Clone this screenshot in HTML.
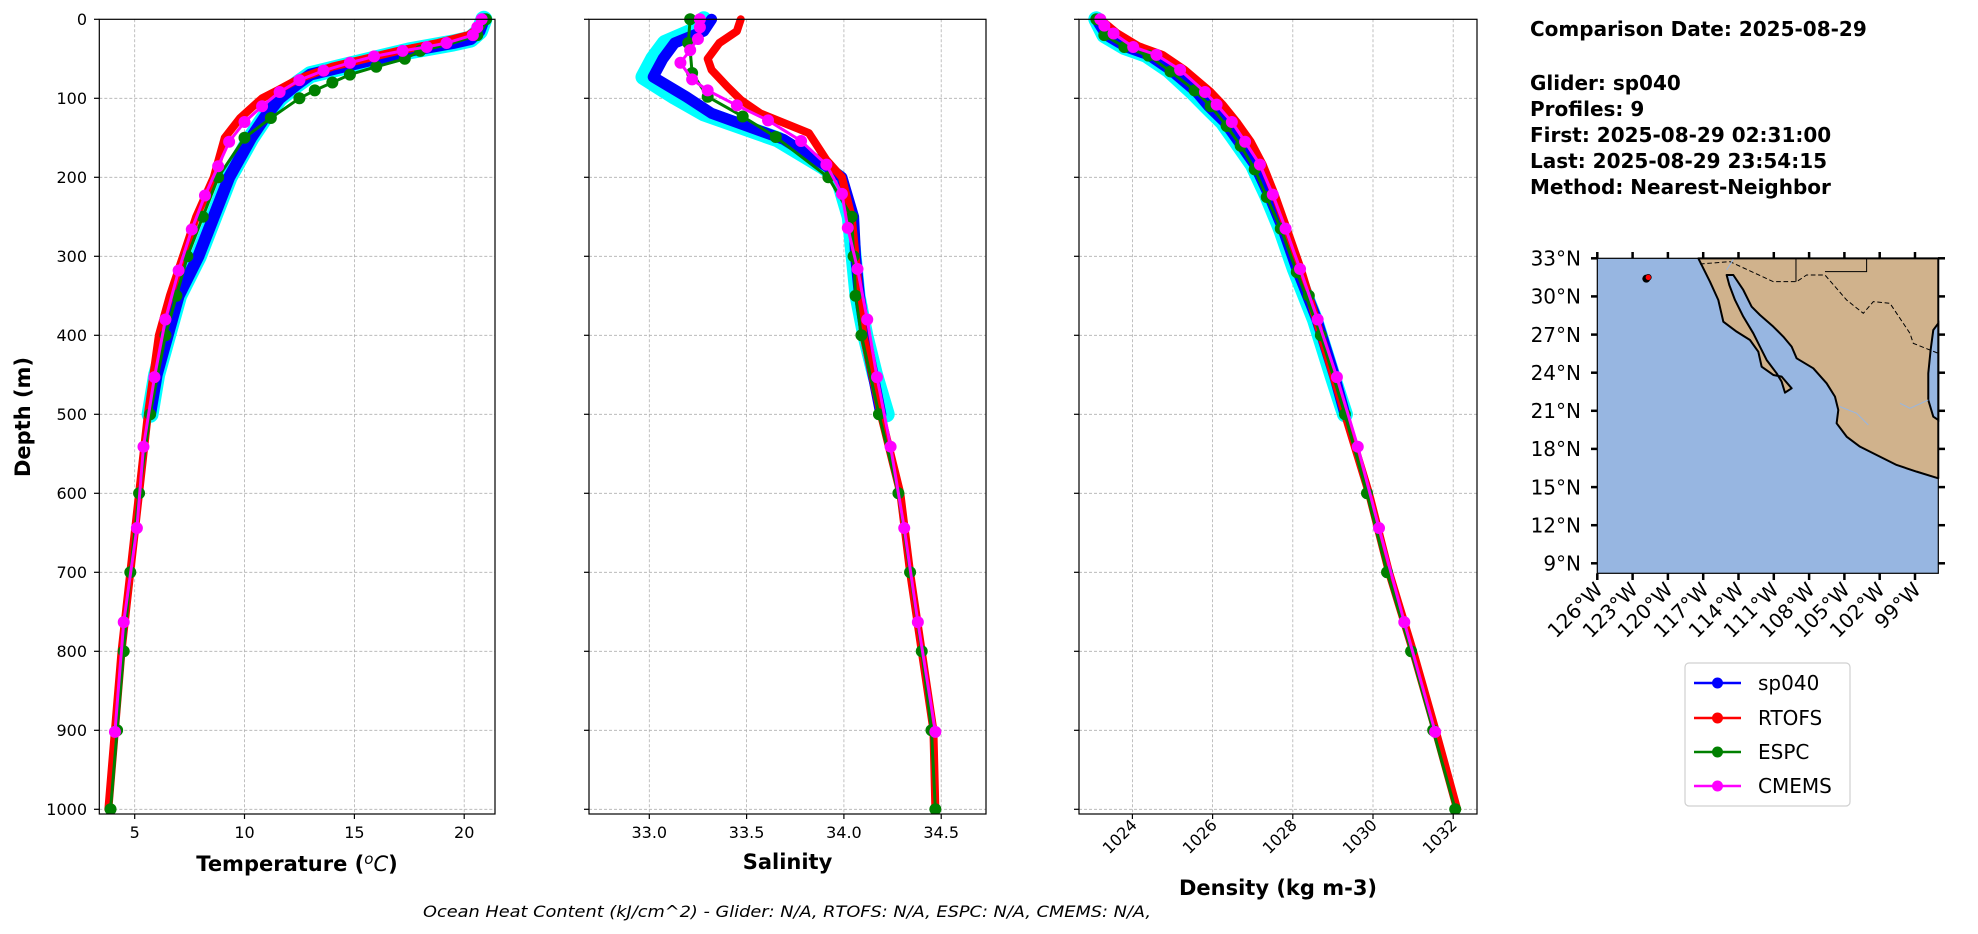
<!DOCTYPE html>
<html><head><meta charset="utf-8"><style>
html,body{margin:0;padding:0;background:#fff;}
svg{display:block;font-family:"DejaVu Sans","Liberation Sans",sans-serif;}
.g{stroke:#b0b0b0;stroke-width:0.8;stroke-dasharray:3,2;fill:none}
.ns{vector-effect:non-scaling-stroke;fill:none;stroke-linejoin:round;stroke-linecap:round}
.tk{font-size:16px;fill:#000}
.ax{fill:none;stroke:#000;stroke-width:1.2}
</style></head><body>
<svg width="1978" height="934" viewBox="0 0 1978 934" xmlns="http://www.w3.org/2000/svg">
<rect width="1978" height="934" fill="#fff"/>

<!-- ===== Temperature axes ===== -->
<g>
<g class="g">
<line x1="134.7" y1="19.3" x2="134.7" y2="814"/><line x1="244.5" y1="19.3" x2="244.5" y2="814"/>
<line x1="354.4" y1="19.3" x2="354.4" y2="814"/><line x1="464.2" y1="19.3" x2="464.2" y2="814"/>
<line x1="99.3" y1="98.3" x2="495" y2="98.3"/><line x1="99.3" y1="177.3" x2="495" y2="177.3"/><line x1="99.3" y1="256.3" x2="495" y2="256.3"/><line x1="99.3" y1="335.3" x2="495" y2="335.3"/><line x1="99.3" y1="414.3" x2="495" y2="414.3"/><line x1="99.3" y1="493.3" x2="495" y2="493.3"/><line x1="99.3" y1="572.3" x2="495" y2="572.3"/><line x1="99.3" y1="651.3" x2="495" y2="651.3"/><line x1="99.3" y1="730.3" x2="495" y2="730.3"/><line x1="99.3" y1="809.3" x2="495" y2="809.3"/>
</g>
<svg x="99.3" y="0" width="395.7" height="814" overflow="hidden">
<g transform="translate(-74.4,19.3) scale(21.96,0.79)">
<path class="ns" stroke="#00ffff" stroke-width="17" d="M20.9 0 L20.7 15 L20.3 25 L19.5 30 L17.5 40 L16 50 L14.5 60 L13 70 L12.4 82 L11.6 100 L10.9 125 L10.3 150 L9.8 175 L9.3 200 L8.6 250 L7.9 300 L7.0 350 L6.5 400 L6.0 450 L5.7 500"/>
<path class="ns" stroke="#0000ff" stroke-width="12" d="M20.9 0 L20.7 15 L20.3 25 L19.5 30 L17.5 40 L16 50 L14.5 60 L13 70 L12.4 82 L11.6 100 L10.9 125 L10.3 150 L9.8 175 L9.3 200 L8.6 250 L7.9 300 L7.0 350 L6.5 400 L6.0 450 L5.7 500"/>
<path class="ns" stroke="#ff0000" stroke-width="8" d="M20.9 0 L20.7 10 L20.2 20 L18.8 30 L17 40 L15.5 50 L14 60 L12.5 75 L11.5 90 L10.8 100 L9.8 125 L9.1 150 L8.6 200 L7.8 250 L7.2 300 L6.6 350 L6.1 400 L5.6 500 L5.2 600 L4.8 700 L4.4 800 L4.1 900 L3.8 1000"/>
<path class="ns" stroke="#008000" stroke-width="3" d="M21 0 L20.9 10 L20.6 20 L19.5 30 L18 40 L17.3 50 L16 60 L14.8 70 L14 80 L13.2 90 L12.5 100 L11.2 125 L10 150 L8.8 200 L8.1 250 L7.4 300 L6.9 350 L6.4 400 L5.7 500 L5.2 600 L4.8 700 L4.5 800 L4.2 900 L3.9 1000"/>
<path class="ns" stroke="#008000" stroke-width="12" d="M21 0h0M20.6 20h0M18 40h0M17.3 50h0M16 60h0M14.8 70h0M14 80h0M13.2 90h0M12.5 100h0M11.2 125h0M10 150h0M8.8 200h0M8.1 250h0M7.4 300h0M6.9 350h0M6.4 400h0M5.7 500h0M5.2 600h0M4.8 700h0M4.5 800h0M4.2 900h0M3.9 1000h0"/>
<path class="ns" stroke="#ff00ff" stroke-width="3" d="M20.8 0 L20.6 10 L20.4 20 L19.2 30 L18.3 35 L17.2 40 L15.9 47 L14.8 55 L13.6 65 L12.5 77 L11.6 92 L10.8 110 L10 130 L9.3 155 L8.8 186 L8.2 223 L7.6 266 L7 318 L6.4 380 L5.9 453 L5.4 541 L5.1 644 L4.5 763 L4.1 902"/>
<path class="ns" stroke="#ff00ff" stroke-width="12" d="M20.8 0h0M20.6 10h0M20.4 20h0M19.2 30h0M18.3 35h0M17.2 40h0M15.9 47h0M14.8 55h0M13.6 65h0M12.5 77h0M11.6 92h0M10.8 110h0M10 130h0M9.3 155h0M8.8 186h0M8.2 223h0M7.6 266h0M7 318h0M6.4 380h0M5.9 453h0M5.4 541h0M5.1 644h0M4.5 763h0M4.1 902h0"/>
</g></svg>
<rect class="ax" x="99.3" y="19.3" width="395.7" height="794.7"/>
<g stroke="#000" stroke-width="1.2">
<line x1="94" y1="19.3" x2="99.3" y2="19.3"/><line x1="94" y1="98.3" x2="99.3" y2="98.3"/><line x1="94" y1="177.3" x2="99.3" y2="177.3"/><line x1="94" y1="256.3" x2="99.3" y2="256.3"/><line x1="94" y1="335.3" x2="99.3" y2="335.3"/><line x1="94" y1="414.3" x2="99.3" y2="414.3"/><line x1="94" y1="493.3" x2="99.3" y2="493.3"/><line x1="94" y1="572.3" x2="99.3" y2="572.3"/><line x1="94" y1="651.3" x2="99.3" y2="651.3"/><line x1="94" y1="730.3" x2="99.3" y2="730.3"/><line x1="94" y1="809.3" x2="99.3" y2="809.3"/>
<line x1="134.7" y1="814" x2="134.7" y2="819"/><line x1="244.5" y1="814" x2="244.5" y2="819"/><line x1="354.4" y1="814" x2="354.4" y2="819"/><line x1="464.2" y1="814" x2="464.2" y2="819"/>
</g>
<g class="tk" text-anchor="end">
<text x="87" y="25">0</text><text x="87" y="104">100</text><text x="87" y="183">200</text><text x="87" y="262">300</text><text x="87" y="341">400</text><text x="87" y="420">500</text><text x="87" y="499">600</text><text x="87" y="578">700</text><text x="87" y="657">800</text><text x="87" y="736">900</text><text x="87" y="815">1000</text>
</g>
<g class="tk" text-anchor="middle">
<text x="134.7" y="838">5</text><text x="244.5" y="838">10</text><text x="354.4" y="838">15</text><text x="464.2" y="838">20</text>
</g>
<text x="297" y="871" text-anchor="middle" font-size="21" font-weight="bold">Temperature (<tspan font-style="italic" font-weight="normal" font-size="15" dy="-7">o</tspan><tspan font-style="italic" font-weight="normal" dy="7">C</tspan>)</text>
<text transform="translate(30,417) rotate(-90)" text-anchor="middle" font-size="21" font-weight="bold">Depth (m)</text>
</g>

<!-- ===== Salinity axes ===== -->
<g>
<g class="g">
<line x1="649.3" y1="19.3" x2="649.3" y2="814"/><line x1="746.6" y1="19.3" x2="746.6" y2="814"/><line x1="843.9" y1="19.3" x2="843.9" y2="814"/><line x1="941.2" y1="19.3" x2="941.2" y2="814"/>
<line x1="589" y1="98.3" x2="986" y2="98.3"/><line x1="589" y1="177.3" x2="986" y2="177.3"/><line x1="589" y1="256.3" x2="986" y2="256.3"/><line x1="589" y1="335.3" x2="986" y2="335.3"/><line x1="589" y1="414.3" x2="986" y2="414.3"/><line x1="589" y1="493.3" x2="986" y2="493.3"/><line x1="589" y1="572.3" x2="986" y2="572.3"/><line x1="589" y1="651.3" x2="986" y2="651.3"/><line x1="589" y1="730.3" x2="986" y2="730.3"/><line x1="589" y1="809.3" x2="986" y2="809.3"/>
</g>
<svg x="589" y="0" width="397" height="814" overflow="hidden">
<g transform="translate(-6361.5,19.3) scale(194.6,0.79)">
<path class="ns" stroke="#00ffff" stroke-width="16" d="M33.28 0 L33.22 15 L33.08 30 L33.02 50 L32.97 73 L33.13 98 L33.28 119 L33.66 152 L33.89 186 L33.97 200 L34.03 250 L34.05 300 L34.07 350 L34.11 400 L34.16 450 L34.22 500"/>
<path class="ns" stroke="#0000ff" stroke-width="11" d="M33.32 0 L33.28 15 L33.13 30 L33.07 50 L33.02 73 L33.19 98 L33.32 119 L33.69 152 L33.91 186 L33.99 200 L34.05 250 L34.06 300 L34.08 350 L34.11 400 L34.15 450 L34.19 500"/>
<path class="ns" stroke="#ff0000" stroke-width="8" d="M33.47 0 L33.45 15 L33.36 30 L33.30 50 L33.32 64 L33.40 85 L33.47 102 L33.57 119 L33.82 144 L33.91 178 L33.99 200 L34.04 250 L34.06 300 L34.08 350 L34.10 400 L34.19 500 L34.29 600 L34.34 700 L34.40 800 L34.46 900 L34.47 1000"/>
<path class="ns" stroke="#008000" stroke-width="3" d="M33.21 0 L33.20 30 L33.21 39 L33.22 68 L33.30 98 L33.48 123 L33.65 149 L33.92 200 L34.04 250 L34.05 300 L34.06 350 L34.09 400 L34.18 500 L34.28 600 L34.34 700 L34.40 800 L34.45 900 L34.47 1000"/>
<path class="ns" stroke="#008000" stroke-width="12" d="M33.21 0h0M33.20 30h0M33.22 68h0M33.30 98h0M33.48 123h0M33.65 149h0M33.92 200h0M34.04 250h0M34.05 300h0M34.06 350h0M34.09 400h0M34.18 500h0M34.28 600h0M34.34 700h0M34.40 800h0M34.45 900h0M34.47 1000h0"/>
<path class="ns" stroke="#ff00ff" stroke-width="3" d="M33.26 0 L33.26 20 L33.21 39 L33.16 55 L33.22 76 L33.30 90 L33.45 109 L33.61 128 L33.78 154 L33.91 184 L33.99 221 L34.02 264 L34.07 316 L34.12 380 L34.17 453 L34.24 541 L34.31 644 L34.38 763 L34.47 902"/>
<path class="ns" stroke="#ff00ff" stroke-width="12" d="M33.26 0h0M33.26 10h0M33.25 25h0M33.21 39h0M33.16 55h0M33.22 76h0M33.30 90h0M33.45 109h0M33.61 128h0M33.78 154h0M33.91 184h0M33.99 221h0M34.02 264h0M34.07 316h0M34.12 380h0M34.17 453h0M34.24 541h0M34.31 644h0M34.38 763h0M34.47 902h0"/>
</g></svg>
<rect class="ax" x="589" y="19.3" width="397" height="794.7"/>
<g stroke="#000" stroke-width="1.2">
<line x1="584" y1="19.3" x2="589" y2="19.3"/><line x1="584" y1="98.3" x2="589" y2="98.3"/><line x1="584" y1="177.3" x2="589" y2="177.3"/><line x1="584" y1="256.3" x2="589" y2="256.3"/><line x1="584" y1="335.3" x2="589" y2="335.3"/><line x1="584" y1="414.3" x2="589" y2="414.3"/><line x1="584" y1="493.3" x2="589" y2="493.3"/><line x1="584" y1="572.3" x2="589" y2="572.3"/><line x1="584" y1="651.3" x2="589" y2="651.3"/><line x1="584" y1="730.3" x2="589" y2="730.3"/><line x1="584" y1="809.3" x2="589" y2="809.3"/>
<line x1="649.3" y1="814" x2="649.3" y2="819"/><line x1="746.6" y1="814" x2="746.6" y2="819"/><line x1="843.9" y1="814" x2="843.9" y2="819"/><line x1="941.2" y1="814" x2="941.2" y2="819"/>
</g>
<g class="tk" text-anchor="middle">
<text x="649.3" y="838">33.0</text><text x="746.6" y="838">33.5</text><text x="843.9" y="838">34.0</text><text x="941.2" y="838">34.5</text>
</g>
<text x="787.5" y="869" text-anchor="middle" font-size="21" font-weight="bold">Salinity</text>
</g>

<!-- ===== Density axes ===== -->
<g>
<g class="g">
<line x1="1132.4" y1="19.3" x2="1132.4" y2="814"/><line x1="1212.6" y1="19.3" x2="1212.6" y2="814"/><line x1="1292.8" y1="19.3" x2="1292.8" y2="814"/><line x1="1373" y1="19.3" x2="1373" y2="814"/><line x1="1453.2" y1="19.3" x2="1453.2" y2="814"/>
<line x1="1079" y1="98.3" x2="1477" y2="98.3"/><line x1="1079" y1="177.3" x2="1477" y2="177.3"/><line x1="1079" y1="256.3" x2="1477" y2="256.3"/><line x1="1079" y1="335.3" x2="1477" y2="335.3"/><line x1="1079" y1="414.3" x2="1477" y2="414.3"/><line x1="1079" y1="493.3" x2="1477" y2="493.3"/><line x1="1079" y1="572.3" x2="1477" y2="572.3"/><line x1="1079" y1="651.3" x2="1477" y2="651.3"/><line x1="1079" y1="730.3" x2="1477" y2="730.3"/><line x1="1079" y1="809.3" x2="1477" y2="809.3"/>
</g>
<svg x="1079" y="0" width="398" height="814" overflow="hidden">
<g transform="translate(-41009,19.3) scale(40.1,0.79)">
<path class="ns" stroke="#00ffff" stroke-width="16" d="M1023.1 0 L1023.3 20 L1023.8 35 L1024.35 45 L1024.9 64 L1025.5 92 L1025.85 110 L1026.25 130 L1026.6 155 L1027.0 184 L1027.35 222 L1027.7 265 L1028.05 316 L1028.55 380 L1029.0 453 L1029.3 500"/>
<path class="ns" stroke="#0000ff" stroke-width="11" d="M1023.1 0 L1023.35 20 L1023.85 35 L1024.4 45 L1024.95 64 L1025.6 92 L1025.9 110 L1026.3 130 L1026.65 155 L1027.05 184 L1027.4 222 L1027.75 265 L1028.1 316 L1028.6 380 L1029.05 453 L1029.3 500"/>
<path class="ns" stroke="#ff0000" stroke-width="8" d="M1023.2 0 L1023.6 17 L1024.15 34 L1024.75 45 L1025.3 64 L1025.95 92 L1026.25 108 L1026.6 130 L1026.95 155 L1027.25 184 L1027.55 222 L1027.85 265 L1028.2 316 L1028.7 400 L1029.3 500 L1029.9 600 L1030.4 700 L1031.0 800 L1031.56 900 L1032.1 1000"/>
<path class="ns" stroke="#008000" stroke-width="3" d="M1023.1 0 L1023.3 20 L1023.8 35 L1024.4 46 L1024.95 66 L1025.55 90 L1025.95 110 L1026.35 135 L1026.7 160 L1027.05 190 L1027.35 225 L1027.7 265 L1028.1 320 L1028.7 400 L1029.3 500 L1029.85 600 L1030.35 700 L1030.95 800 L1031.5 900 L1032.05 1000"/>
<path class="ns" stroke="#008000" stroke-width="12" d="M1023.1 0h0M1023.3 20h0M1023.8 35h0M1024.4 46h0M1024.95 66h0M1025.55 90h0M1025.95 110h0M1026.35 135h0M1026.7 160h0M1027.05 190h0M1027.35 225h0M1027.7 265h0M1028.1 320h0M1028.4 350h0M1028.7 400h0M1029.3 500h0M1029.85 600h0M1030.35 700h0M1030.95 800h0M1031.5 900h0M1032.05 1000h0"/>
<path class="ns" stroke="#ff00ff" stroke-width="3" d="M1023.2 0 L1023.53 18 L1024.02 35 L1024.6 45 L1025.19 64 L1025.81 92 L1026.1 108 L1026.48 130 L1026.81 155 L1027.18 184 L1027.5 222 L1027.82 265 L1028.18 316 L1028.62 380 L1029.1 453 L1029.62 541 L1030.15 644 L1030.78 763 L1031.55 902"/>
<path class="ns" stroke="#ff00ff" stroke-width="12" d="M1023.2 0h0M1023.3 8h0M1023.53 18h0M1024.02 35h0M1024.6 45h0M1025.19 64h0M1025.81 92h0M1026.1 108h0M1026.48 130h0M1026.81 155h0M1027.18 184h0M1027.5 222h0M1027.82 265h0M1028.18 316h0M1028.62 380h0M1029.1 453h0M1029.62 541h0M1030.15 644h0M1030.78 763h0M1031.55 902h0"/>
</g></svg>
<rect class="ax" x="1079" y="19.3" width="398" height="794.7"/>
<g stroke="#000" stroke-width="1.2">
<line x1="1074" y1="19.3" x2="1079" y2="19.3"/><line x1="1074" y1="98.3" x2="1079" y2="98.3"/><line x1="1074" y1="177.3" x2="1079" y2="177.3"/><line x1="1074" y1="256.3" x2="1079" y2="256.3"/><line x1="1074" y1="335.3" x2="1079" y2="335.3"/><line x1="1074" y1="414.3" x2="1079" y2="414.3"/><line x1="1074" y1="493.3" x2="1079" y2="493.3"/><line x1="1074" y1="572.3" x2="1079" y2="572.3"/><line x1="1074" y1="651.3" x2="1079" y2="651.3"/><line x1="1074" y1="730.3" x2="1079" y2="730.3"/><line x1="1074" y1="809.3" x2="1079" y2="809.3"/>
<line x1="1132.4" y1="814" x2="1132.4" y2="819"/><line x1="1212.6" y1="814" x2="1212.6" y2="819"/><line x1="1292.8" y1="814" x2="1292.8" y2="819"/><line x1="1373" y1="814" x2="1373" y2="819"/><line x1="1453.2" y1="814" x2="1453.2" y2="819"/>
</g>
<g class="tk" text-anchor="end">
<text transform="translate(1138,826) rotate(-45)">1024</text>
<text transform="translate(1218,826) rotate(-45)">1026</text>
<text transform="translate(1298,826) rotate(-45)">1028</text>
<text transform="translate(1378,826) rotate(-45)">1030</text>
<text transform="translate(1458,826) rotate(-45)">1032</text>
</g>
<text x="1278" y="895" text-anchor="middle" font-size="21" font-weight="bold">Density (kg m-3)</text>
</g>

<text x="423" y="917" font-size="16" font-style="italic" textLength="728" lengthAdjust="spacingAndGlyphs">Ocean Heat Content (kJ/cm^2) - Glider: N/A,  RTOFS: N/A,  ESPC: N/A,  CMEMS: N/A,</text>

<!-- ===== Info text ===== -->
<g font-size="20" font-weight="bold">
<text x="1530" y="36">Comparison Date: 2025-08-29</text>
<text x="1530" y="90">Glider: sp040</text>
<text x="1530" y="116">Profiles: 9</text>
<text x="1530" y="142">First: 2025-08-29 02:31:00</text>
<text x="1530" y="168">Last: 2025-08-29 23:54:15</text>
<text x="1530" y="194">Method: Nearest-Neighbor</text>
</g>

<!-- ===== Map ===== -->
<g>
<rect x="1597.3" y="258.3" width="341" height="315" fill="#97b6e1"/>
<g transform="translate(1480,200) scale(0.3333)">
<path fill="#d0b28c" stroke="#000" stroke-width="6" stroke-linejoin="round" d="M655 175 L690 245 L715 300 L730 365 L770 395 L810 420 L835 455 L845 500 L880 525 L905 530 L935 565 L915 578 L905 545 L890 520 L860 480 L840 440 L820 400 L790 350 L765 300 L748 255 L740 225 L760 225 L790 270 L815 320 L840 345 L880 380 L910 410 L935 440 L950 475 L1000 505 L1040 550 L1065 590 L1075 630 L1070 670 L1100 710 L1140 740 L1190 765 L1250 795 L1310 815 L1375 835 L1375 175 Z"/>
<path fill="#97b6e1" stroke="#000" stroke-width="6" d="M1375 370 L1360 390 L1352 450 L1345 520 L1345 600 L1360 650 L1375 660 Z"/>
<path fill="none" stroke="#000" stroke-width="3" stroke-dasharray="14,8" d="M660 192 L750 185 L880 245 L950 245 L980 225 L1035 225 L1100 300 L1150 340 L1180 305 L1230 310 L1290 400 L1300 430 L1375 460"/>
<path fill="none" stroke="#000" stroke-width="3" d="M948 175 L948 245 M1035 215 L1160 215 L1160 175"/>
<path fill="none" stroke="#97b6e1" stroke-width="3" d="M740 210 L760 178 M1260 610 L1290 625 L1345 600 M1080 620 L1130 640 L1165 675"/>
<circle cx="499" cy="236" r="12" fill="#000"/>
<circle cx="505" cy="232" r="9" fill="#ff0000" stroke="#000" stroke-width="2"/>
</g>
<rect x="1597.3" y="258.3" width="341" height="315" fill="none" stroke="#000" stroke-width="1.2"/>
<g stroke="#000" stroke-width="2.5">
<line x1="1591" y1="258.3" x2="1597.3" y2="258.3"/><line x1="1591" y1="296.4" x2="1597.3" y2="296.4"/><line x1="1591" y1="334.6" x2="1597.3" y2="334.6"/><line x1="1591" y1="372.7" x2="1597.3" y2="372.7"/><line x1="1591" y1="410.8" x2="1597.3" y2="410.8"/><line x1="1591" y1="448.9" x2="1597.3" y2="448.9"/><line x1="1591" y1="487.1" x2="1597.3" y2="487.1"/><line x1="1591" y1="525.2" x2="1597.3" y2="525.2"/><line x1="1591" y1="563.3" x2="1597.3" y2="563.3"/>
<line x1="1938" y1="258.3" x2="1945" y2="258.3"/><line x1="1938" y1="296.4" x2="1945" y2="296.4"/><line x1="1938" y1="334.6" x2="1945" y2="334.6"/><line x1="1938" y1="372.7" x2="1945" y2="372.7"/><line x1="1938" y1="410.8" x2="1945" y2="410.8"/><line x1="1938" y1="448.9" x2="1945" y2="448.9"/><line x1="1938" y1="487.1" x2="1945" y2="487.1"/><line x1="1938" y1="525.2" x2="1945" y2="525.2"/><line x1="1938" y1="563.3" x2="1945" y2="563.3"/>
<line x1="1597.3" y1="573.3" x2="1597.3" y2="580"/><line x1="1632.6" y1="573.3" x2="1632.6" y2="580"/><line x1="1667.9" y1="573.3" x2="1667.9" y2="580"/><line x1="1703.2" y1="573.3" x2="1703.2" y2="580"/><line x1="1738.5" y1="573.3" x2="1738.5" y2="580"/><line x1="1773.8" y1="573.3" x2="1773.8" y2="580"/><line x1="1809.1" y1="573.3" x2="1809.1" y2="580"/><line x1="1844.4" y1="573.3" x2="1844.4" y2="580"/><line x1="1879.7" y1="573.3" x2="1879.7" y2="580"/><line x1="1915" y1="573.3" x2="1915" y2="580"/>
<line x1="1597.3" y1="252" x2="1597.3" y2="258.3"/><line x1="1632.6" y1="252" x2="1632.6" y2="258.3"/><line x1="1667.9" y1="252" x2="1667.9" y2="258.3"/><line x1="1703.2" y1="252" x2="1703.2" y2="258.3"/><line x1="1738.5" y1="252" x2="1738.5" y2="258.3"/><line x1="1773.8" y1="252" x2="1773.8" y2="258.3"/><line x1="1809.1" y1="252" x2="1809.1" y2="258.3"/><line x1="1844.4" y1="252" x2="1844.4" y2="258.3"/><line x1="1879.7" y1="252" x2="1879.7" y2="258.3"/><line x1="1915" y1="252" x2="1915" y2="258.3"/>
</g>
<g font-size="20" text-anchor="end">
<text x="1581" y="265.5">33°N</text><text x="1581" y="303.6">30°N</text><text x="1581" y="341.8">27°N</text><text x="1581" y="379.9">24°N</text><text x="1581" y="418">21°N</text><text x="1581" y="456.1">18°N</text><text x="1581" y="494.3">15°N</text><text x="1581" y="532.4">12°N</text><text x="1581" y="570.5">9°N</text>
</g>
<g font-size="20" text-anchor="end">
<text transform="translate(1604,591) rotate(-45)">126°W</text>
<text transform="translate(1639,591) rotate(-45)">123°W</text>
<text transform="translate(1674,591) rotate(-45)">120°W</text>
<text transform="translate(1710,591) rotate(-45)">117°W</text>
<text transform="translate(1745,591) rotate(-45)">114°W</text>
<text transform="translate(1780,591) rotate(-45)">111°W</text>
<text transform="translate(1816,591) rotate(-45)">108°W</text>
<text transform="translate(1851,591) rotate(-45)">105°W</text>
<text transform="translate(1886,591) rotate(-45)">102°W</text>
<text transform="translate(1922,591) rotate(-45)">99°W</text>
</g>
</g>

<!-- ===== Legend ===== -->
<g>
<rect x="1685" y="663" width="165" height="143" rx="4" fill="#fff" stroke="#d0d0d0" stroke-width="1.2"/>
<g stroke-width="2.5">
<line x1="1694" y1="683" x2="1741" y2="683" stroke="#0000ff"/><circle cx="1717.5" cy="683" r="5.5" fill="#0000ff"/>
<line x1="1694" y1="718" x2="1741" y2="718" stroke="#ff0000"/><circle cx="1717.5" cy="718" r="5.5" fill="#ff0000"/>
<line x1="1694" y1="752" x2="1741" y2="752" stroke="#008000"/><circle cx="1717.5" cy="752" r="5.5" fill="#008000"/>
<line x1="1694" y1="786" x2="1741" y2="786" stroke="#ff00ff"/><circle cx="1717.5" cy="786" r="5.5" fill="#ff00ff"/>
</g>
<g font-size="20">
<text x="1758" y="690">sp040</text><text x="1758" y="725">RTOFS</text><text x="1758" y="759">ESPC</text><text x="1758" y="793">CMEMS</text>
</g>
</g>
</svg>
</body></html>
